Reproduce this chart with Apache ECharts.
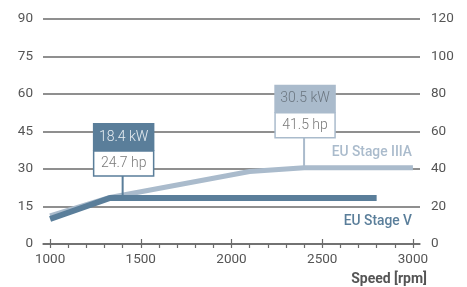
<!DOCTYPE html>
<html>
<head>
<meta charset="utf-8">
<script src="https://cdn.jsdelivr.net/npm/echarts@6/dist/echarts.min.js"></script>
<style>
  html, body { margin: 0; padding: 0; background: #fff; }
  #chart { width: 467px; height: 287px; }
</style>
</head>
<body>
<div id="chart"></div>
<script>
// data
const stageIIIARpm = [1000, 1330, 2100, 2400, 3000]
const stageIIIAKw = [11.2, 18.6, 29, 30.5, 30.5]
const stageVRpm = [1000, 1330, 2800]
const stageVKw = [10, 18.4, 18.4]

const peakRpm = [1400, 2400]
const peakKw = [18.4, 30.5]
const peakHp = [24.7, 41.5]

const xLabels = [1000, 1500, 2000, 2500, 3000]
const xMinorTicks = [1000, 1100, 1200, 1300, 1400, 1500, 1600, 1700, 1800, 1900, 2000,
  2100, 2200, 2300, 2400, 2500, 2600, 2700, 2800, 2900, 3000]

const darkBlue = '#5a7e9a'
const lightBlue = '#aabbcc'
const gridGrey = '#6a6a6a'
const labelGrey = '#555'
const font = 'Roboto'

const chart = echarts.init(document.getElementById('chart'))

const pair = (xs, ys) => xs.map((x, i) => [x, ys[i]])
const plain = v => String(v)

const option = {
  animation: false,
  grid: { left: 43, right: 47, top: 19, bottom: 43 },
  xAxis: [
    {
      type: 'value', min: 961, max: 3039,
      axisLine: { show: true, lineStyle: { color: gridGrey, width: 1.5 } },
      axisTick: { show: true, customValues: xMinorTicks, length: 4, lineStyle: { color: gridGrey, width: 1.2 } },
      axisLabel: { customValues: xLabels, formatter: plain, color: labelGrey, fontFamily: font, fontSize: 13.5, margin: 9 },
      splitLine: { show: false }
    },
    {
      type: 'value', min: 961, max: 3039, position: 'bottom',
      axisLine: { show: false },
      axisTick: { show: true, inside: true, customValues: xLabels, length: 5, lineStyle: { color: gridGrey, width: 1.2 } },
      axisLabel: { show: false },
      splitLine: { show: false }
    }
  ],
  yAxis: [
    {
      type: 'value', min: 0, max: 90, interval: 15,
      axisLine: { show: false }, axisTick: { show: false },
      axisLabel: { formatter: plain, color: labelGrey, fontFamily: font, fontSize: 13.5, margin: 10 },
      splitLine: { lineStyle: { color: gridGrey, width: 1.5 } }
    },
    {
      type: 'value', min: 0, max: 120, interval: 20, position: 'right',
      axisLine: { show: false }, axisTick: { show: false },
      axisLabel: { formatter: plain, color: labelGrey, fontFamily: font, fontSize: 13.5, margin: 11 },
      splitLine: { show: false }
    }
  ],
  series: [
    {
      name: 'EU Stage IIIA', type: 'line', z: 2,
      data: pair(stageIIIARpm, stageIIIAKw),
      symbol: 'none',
      lineStyle: { color: lightBlue, width: 5 }
    },
    {
      name: 'EU Stage V', type: 'line', z: 3,
      data: pair(stageVRpm, stageVKw),
      symbol: 'none',
      lineStyle: { color: darkBlue, width: 6 }
    }
  ]
}
chart.setOption(option)

// annotation boxes placed through the axes
const boxStyles = [
  { fill: darkBlue, text: '#e6edf2', border: darkBlue, gap: 22 },
  { fill: lightBlue, text: '#6b7680', border: lightBlue, gap: 30 }
]
const graphics = []
peakRpm.forEach((rpm, i) => {
  const [px, py] = chart.convertToPixel({ xAxisIndex: 0, yAxisIndex: 0 }, [rpm, peakKw[i]])
  const s = boxStyles[i]
  const w = 60
  const bottom = py - s.gap
  const left = px - w / 2 + 1
  graphics.push(
    { type: 'line', z: 10, shape: { x1: px, y1: bottom, x2: px, y2: py }, style: { stroke: s.border, lineWidth: 2 } },
    { type: 'rect', z: 10, shape: { x: left, y: bottom - 25, width: w, height: 25 }, style: { fill: '#fff', stroke: s.border, lineWidth: 1.5 } },
    { type: 'text', z: 11, x: left + w / 2, y: bottom - 12.5, style: { text: peakHp[i] + ' hp', fill: '#7a7a7a', font: '300 14px ' + font, align: 'center', verticalAlign: 'middle' } },
    { type: 'rect', z: 10, shape: { x: left - 0.75, y: bottom - 53, width: w + 1.5, height: 28 }, style: { fill: s.fill } },
    { type: 'text', z: 11, x: left + w / 2, y: bottom - 39, style: { text: peakKw[i] + ' kW', fill: s.text, font: '300 14px ' + font, align: 'center', verticalAlign: 'middle' } }
  )
})

graphics.push(
  { type: 'text', z: 11, x: 412, y: 153, style: { text: 'EU Stage IIIA', fill: lightBlue, font: '500 13.8px ' + font, align: 'right', verticalAlign: 'middle' } },
  { type: 'text', z: 11, x: 412, y: 222, style: { text: 'EU Stage V', fill: darkBlue, font: '500 13.8px ' + font, align: 'right', verticalAlign: 'middle' } },
  { type: 'text', z: 11, x: 427, y: 279, style: { text: 'Speed [rpm]', fill: labelGrey, font: 'bold 14px ' + font, align: 'right', verticalAlign: 'middle' } }
)

chart.setOption({ graphic: graphics })
</script>
</body>
</html>
